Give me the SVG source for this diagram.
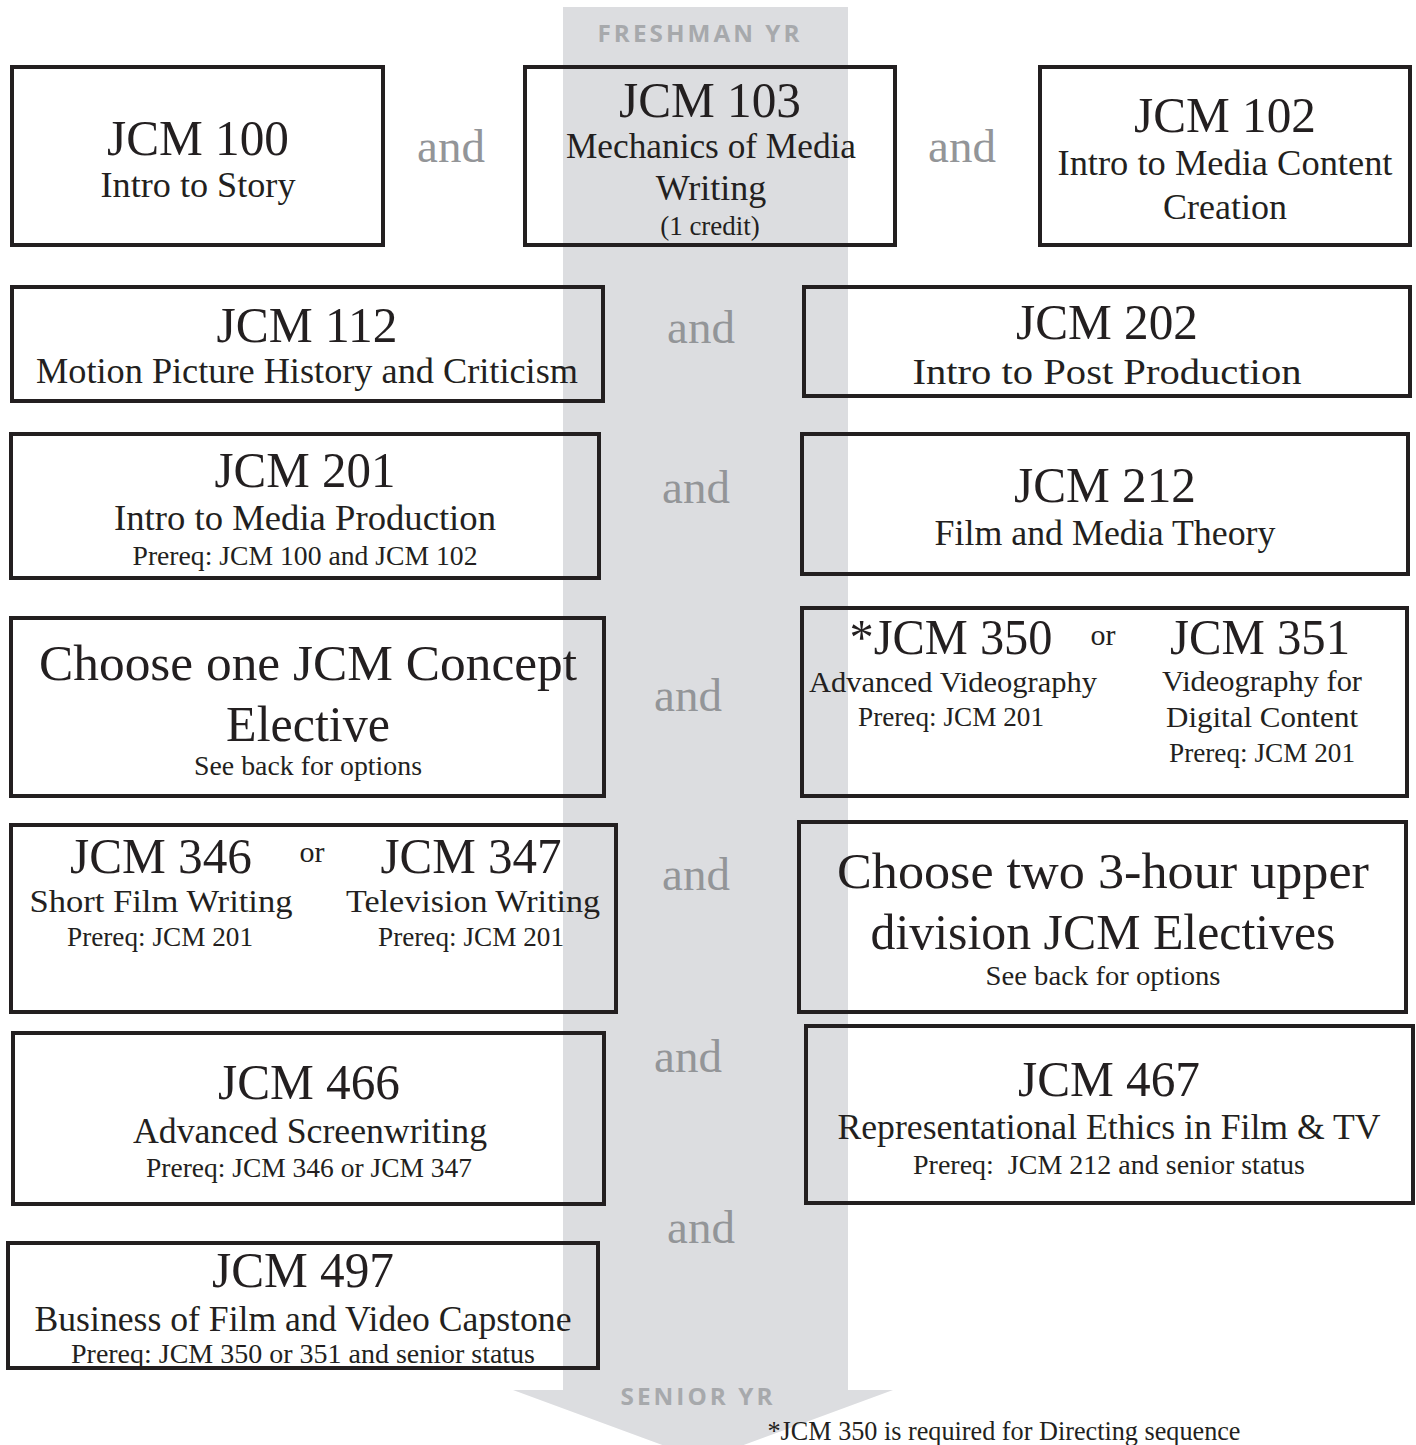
<svg xmlns="http://www.w3.org/2000/svg" width="1416" height="1445" viewBox="0 0 1416 1445">
<style>
text{font-family:"Liberation Serif","Times New Roman",serif;fill:#231f20;text-anchor:middle}
.box{fill:none;stroke:#231f20;stroke-width:4}
.t{font-size:50px}
.s{font-size:36px}
.m{font-size:32px}
.m2{font-size:30px}
.p{font-size:27px}
.or{font-size:30px}
.and{font-size:47px;fill:#939598}
.yr{font-family:"Open Sans","Liberation Sans",sans-serif;font-weight:bold;font-size:24px;fill:#a7a9ac;letter-spacing:3px}
</style>
<rect width="1416" height="1445" fill="#ffffff"/>
<g id="timeline">
<path d="M563,7 H848 V1390 H893 L703,1460 L513,1390 H563 Z" fill="#dcdde0"/>
<text class="yr" x="700" y="42" textLength="205" lengthAdjust="spacingAndGlyphs">FRESHMAN YR</text>
<text class="yr" x="698" y="1405" textLength="155" lengthAdjust="spacingAndGlyphs">SENIOR YR</text>
</g>
<g id="connectors">
<text class="and" x="451" y="162">and</text>
<text class="and" x="962" y="162">and</text>
<text class="and" x="701" y="343">and</text>
<text class="and" x="696" y="503">and</text>
<text class="and" x="688" y="711">and</text>
<text class="and" x="696" y="890">and</text>
<text class="and" x="688" y="1072">and</text>
<text class="and" x="701" y="1243">and</text>
</g>
<g id="jcm100">
<rect class="box" x="12" y="67" width="371" height="178"/>
<text class="t" x="198" y="155" textLength="182" lengthAdjust="spacingAndGlyphs">JCM 100</text>
<text class="s" x="198" y="197" textLength="195" lengthAdjust="spacingAndGlyphs">Intro to Story</text>
</g>
<g id="jcm103">
<rect class="box" x="525" y="67" width="370" height="178"/>
<text class="t" x="710" y="117" textLength="182" lengthAdjust="spacingAndGlyphs">JCM 103</text>
<text class="s" x="711" y="158" textLength="290" lengthAdjust="spacingAndGlyphs">Mechanics of Media</text>
<text class="s" x="711" y="200">Writing</text>
<text class="p" x="710" y="235">(1 credit)</text>
</g>
<g id="jcm102">
<rect class="box" x="1040" y="67" width="370" height="178"/>
<text class="t" x="1225" y="132" textLength="182" lengthAdjust="spacingAndGlyphs">JCM 102</text>
<text class="s" x="1225" y="175" textLength="335" lengthAdjust="spacingAndGlyphs">Intro to Media Content</text>
<text class="s" x="1225" y="219">Creation</text>
</g>
<g id="jcm112">
<rect class="box" x="12" y="287" width="591" height="114"/>
<text class="t" x="307" y="342" textLength="181" lengthAdjust="spacingAndGlyphs">JCM 112</text>
<text class="s" x="307" y="383" textLength="542" lengthAdjust="spacingAndGlyphs">Motion Picture History and Criticism</text>
</g>
<g id="jcm202">
<rect class="box" x="804" y="287" width="606" height="109"/>
<text class="t" x="1107" y="339" textLength="182" lengthAdjust="spacingAndGlyphs">JCM 202</text>
<text class="s" x="1107" y="384" textLength="389" lengthAdjust="spacingAndGlyphs">Intro to Post Production</text>
</g>
<g id="jcm201">
<rect class="box" x="11" y="434" width="588" height="144"/>
<text class="t" x="305" y="487" textLength="181" lengthAdjust="spacingAndGlyphs">JCM 201</text>
<text class="s" x="305" y="530" textLength="382" lengthAdjust="spacingAndGlyphs">Intro to Media Production</text>
<text class="p" x="305" y="565" textLength="345" lengthAdjust="spacingAndGlyphs">Prereq: JCM 100 and JCM 102</text>
</g>
<g id="jcm212">
<rect class="box" x="802" y="434" width="606" height="140"/>
<text class="t" x="1105" y="502" textLength="182" lengthAdjust="spacingAndGlyphs">JCM 212</text>
<text class="s" x="1105" y="545" textLength="341" lengthAdjust="spacingAndGlyphs">Film and Media Theory</text>
</g>
<g id="concept">
<rect class="box" x="11" y="618" width="593" height="178"/>
<text class="t" x="308" y="680" textLength="538" lengthAdjust="spacingAndGlyphs">Choose one JCM Concept</text>
<text class="t" x="308" y="741">Elective</text>
<text class="p" x="308" y="775" textLength="228" lengthAdjust="spacingAndGlyphs">See back for options</text>
</g>
<g id="jcm350-351">
<rect class="box" x="802" y="608" width="605" height="188"/>
<text class="t" x="951" y="654" textLength="203" lengthAdjust="spacingAndGlyphs">*JCM 350</text>
<text class="or" x="1103" y="645">or</text>
<text class="t" x="1260" y="654" textLength="180" lengthAdjust="spacingAndGlyphs">JCM 351</text>
<text class="m2" x="953" y="692" textLength="288" lengthAdjust="spacingAndGlyphs">Advanced Videography</text>
<text class="p" x="951" y="726" textLength="186" lengthAdjust="spacingAndGlyphs">Prereq: JCM 201</text>
<text class="m2" x="1262" y="691" textLength="200" lengthAdjust="spacingAndGlyphs">Videography for</text>
<text class="m2" x="1262" y="727" textLength="192" lengthAdjust="spacingAndGlyphs">Digital Content</text>
<text class="p" x="1262" y="762" textLength="186" lengthAdjust="spacingAndGlyphs">Prereq: JCM 201</text>
</g>
<g id="jcm346-347">
<rect class="box" x="11" y="825" width="605" height="187"/>
<text class="t" x="161" y="873" textLength="182" lengthAdjust="spacingAndGlyphs">JCM 346</text>
<text class="or" x="312" y="862">or</text>
<text class="t" x="471" y="873" textLength="181" lengthAdjust="spacingAndGlyphs">JCM 347</text>
<text class="m" x="161" y="912" textLength="263" lengthAdjust="spacingAndGlyphs">Short Film Writing</text>
<text class="m" x="473" y="912" textLength="254" lengthAdjust="spacingAndGlyphs">Television Writing</text>
<text class="p" x="160" y="946" textLength="186" lengthAdjust="spacingAndGlyphs">Prereq: JCM 201</text>
<text class="p" x="471" y="946" textLength="186" lengthAdjust="spacingAndGlyphs">Prereq: JCM 201</text>
</g>
<g id="upper-electives">
<rect class="box" x="799" y="822" width="607" height="190"/>
<text class="t" x="1103" y="888" textLength="532" lengthAdjust="spacingAndGlyphs">Choose two 3-hour upper</text>
<text class="t" x="1103" y="949" textLength="465" lengthAdjust="spacingAndGlyphs">division JCM Electives</text>
<text class="p" x="1103" y="985" textLength="235" lengthAdjust="spacingAndGlyphs">See back for options</text>
</g>
<g id="jcm466">
<rect class="box" x="13" y="1033" width="591" height="171"/>
<text class="t" x="309" y="1099" textLength="182" lengthAdjust="spacingAndGlyphs">JCM 466</text>
<text class="s" x="310" y="1143" textLength="354" lengthAdjust="spacingAndGlyphs">Advanced Screenwriting</text>
<text class="p" x="309" y="1177" textLength="326" lengthAdjust="spacingAndGlyphs">Prereq: JCM 346 or JCM 347</text>
</g>
<g id="jcm467">
<rect class="box" x="806" y="1026" width="607" height="177"/>
<text class="t" x="1109" y="1096" textLength="182" lengthAdjust="spacingAndGlyphs">JCM 467</text>
<text class="s" x="1109" y="1139" textLength="543" lengthAdjust="spacingAndGlyphs">Representational Ethics in Film &amp; TV</text>
<text class="p" x="1109" y="1174" textLength="392" lengthAdjust="spacingAndGlyphs" xml:space="preserve">Prereq:  JCM 212 and senior status</text>
</g>
<g id="jcm497">
<rect class="box" x="8" y="1243" width="590" height="125"/>
<text class="t" x="303" y="1287" textLength="182" lengthAdjust="spacingAndGlyphs">JCM 497</text>
<text class="s" x="303" y="1331" textLength="537" lengthAdjust="spacingAndGlyphs">Business of Film and Video Capstone</text>
<text class="p" x="303" y="1363" textLength="464" lengthAdjust="spacingAndGlyphs">Prereq: JCM 350 or 351 and senior status</text>
</g>
<g id="footnote">
<text class="p" x="1004" y="1440" textLength="473" lengthAdjust="spacingAndGlyphs">*JCM 350 is required for Directing sequence</text>
</g>
</svg>
